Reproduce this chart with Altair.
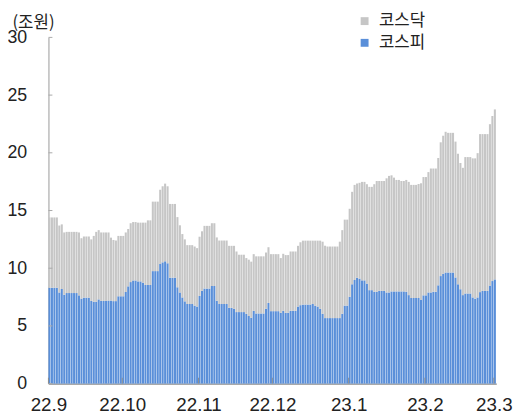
import altair as alt
import pandas as pd

start_date = "2022-09-01"

# Total (코스피 + 코스닥), 조원, one value per calendar day from 2022-09-01
total = [
    14.4, 14.4, 14.4, 14.4, 13.7, 13.8, 13.1, 13.15, 13.15, 13.15,
    13.15, 13.15, 13.1, 12.6, 12.75, 12.75, 12.75, 12.5, 12.8, 13.15,
    13.3, 13.1, 13.1, 13.1, 13.1, 12.65, 12.45, 12.4, 12.8, 12.8,
    12.8, 13.1, 13.4, 13.9, 14.0, 14.0, 13.95, 13.95, 13.95, 13.95,
    14.15, 14.15, 15.77, 15.77, 15.77, 16.8, 17.1, 17.33, 17.1, 15.57,
    15.57, 15.57, 14.43, 13.72, 12.96, 12.5, 12.0, 12.0, 12.0, 11.88,
    11.74, 12.73, 13.2, 13.67, 13.67, 13.67, 13.9, 13.9, 12.67, 12.4,
    12.4, 12.4, 12.4, 11.94, 11.94, 11.94, 11.45, 11.17, 11.17, 11.17,
    10.88, 10.74, 10.57, 11.22, 11.03, 11.03, 11.03, 11.03, 11.36, 11.82,
    11.22, 11.22, 11.22, 11.22, 10.88, 11.25, 11.14, 11.14, 11.45, 11.45,
    11.45, 11.94, 12.25, 12.39, 12.39, 12.39, 12.39, 12.39, 12.39, 12.39,
    12.39, 12.3, 11.95, 11.88, 11.88, 11.88, 11.88, 11.88, 12.3, 13.3,
    14.21, 14.21, 15.15, 16.62, 17.22, 17.34, 17.4, 17.48, 17.48, 17.28,
    17.05, 17.05, 17.28, 17.56, 17.56, 17.56, 17.56, 17.79, 18.0, 18.05,
    17.85, 17.65, 17.65, 17.56, 17.56, 17.65, 17.48, 17.22, 17.22, 17.22,
    17.3, 17.36, 17.9, 17.9, 18.33, 18.64, 18.64, 18.64, 19.55, 20.91,
    21.48, 21.82, 21.73, 21.73, 21.73, 20.97, 19.92, 19.12, 18.7, 19.63,
    19.63, 19.63, 19.52, 19.52, 19.97, 21.62, 21.62, 21.62, 21.62, 22.48,
    23.19, 23.76,
]

# 코스피 part
kospi = [
    8.31, 8.31, 8.31, 8.31, 7.9, 8.2, 7.7, 7.85, 7.85, 7.85,
    7.85, 7.85, 7.65, 7.37, 7.45, 7.45, 7.45, 7.17, 7.1, 7.1,
    7.3, 7.17, 7.17, 7.17, 7.2, 7.2, 7.15, 7.15, 7.57, 7.57,
    7.57, 7.94, 8.43, 8.8, 8.94, 8.94, 8.86, 8.86, 8.75, 8.55,
    8.55, 8.55, 9.75, 9.75, 9.75, 10.37, 10.51, 10.6, 10.43, 9.18,
    9.18, 9.18, 8.35, 7.9, 7.47, 7.13, 6.9, 6.9, 6.9, 6.76,
    6.68, 7.6, 8.04, 8.24, 8.24, 8.24, 8.46, 8.46, 7.18, 6.9,
    6.9, 6.9, 6.9, 6.57, 6.57, 6.48, 6.2, 6.2, 6.2, 6.2,
    6.05, 5.86, 5.71, 6.31, 6.08, 6.08, 6.08, 6.08, 6.48, 6.99,
    6.28, 6.28, 6.28, 6.28, 6.14, 6.31, 6.14, 6.14, 6.31, 6.31,
    6.31, 6.68, 6.8, 6.85, 6.85, 6.85, 6.85, 6.9, 6.76, 6.68,
    6.48, 6.05, 5.68, 5.68, 5.68, 5.68, 5.68, 5.68, 5.68, 6.05,
    6.76, 6.76, 7.53, 8.61, 8.98, 9.18, 9.1, 8.95, 8.95, 8.67,
    8.1, 8.1, 7.96, 7.96, 8.04, 8.04, 8.04, 7.9, 7.9, 7.99,
    7.99, 7.99, 7.99, 7.99, 7.99, 7.96, 7.67, 7.42, 7.42, 7.42,
    7.42, 7.25, 7.65, 7.65, 7.9, 7.9, 7.96, 7.96, 8.52, 9.32,
    9.51, 9.63, 9.63, 9.63, 9.63, 9.2, 8.61, 8.18, 7.67, 7.81,
    7.81, 7.81, 7.47, 7.36, 7.47, 7.93, 8.04, 8.04, 8.04, 8.5,
    8.89, 9.03,
]

series_names = ["코스닥", "코스피"]
series_colors = ["#c6c6c6", "#5a8fd9"]
y_ticks = [0, 5, 10, 15, 20, 25, 30]
month_ticks = [
    "2022-09-01T00:00:00", "2022-10-01T00:00:00", "2022-11-01T00:00:00",
    "2022-12-01T00:00:00", "2023-01-01T00:00:00", "2023-02-01T00:00:00",
    "2023-03-01T00:00:00",
]
x_domain = ["2022-09-01T00:00:00", "2023-03-02T00:00:00"]

# Build a table: 코스피 from 0 to kospi, 코스닥 from kospi to total
dates = pd.date_range(start_date, periods=len(total), freq="D")
rows = []
for d, t, k in zip(dates, total, kospi):
    s = d.strftime("%Y-%m-%dT%H:%M:%S")
    e = (d + pd.Timedelta(hours=20)).strftime("%Y-%m-%dT%H:%M:%S")
    rows.append({"start": s, "end": e, "series": "코스피", "value": k, "base": 0.0})
    rows.append({"start": s, "end": e, "series": "코스닥", "value": t, "base": k})
df = pd.DataFrame(rows)

W, H = 454, 351
NUM_FONT = "Liberation Sans"
KR_FONT = "Noto Sans CJK KR"

month_dt = [
    alt.DateTime(year=int(m[:4]), month=int(m[5:7]), date=1) for m in month_ticks
]

x_axis = alt.Axis(
    values=month_dt, format="%y.%-m", formatType="time", title=None,
    ticks=False, grid=False, labelFontSize=19, labelFont=NUM_FONT,
    labelColor="#222", labelPadding=12, domainColor="#8c8c8c",
    domainWidth=1.2, labelFlush=False, labelOverlap=False,
)
y_axis = alt.Axis(
    values=y_ticks, title="(조원)", titleAngle=0, titleAlign="left",
    titleBaseline="alphabetic", titleX=-37, titleY=-10,
    titleFontSize=17, titleFontWeight="normal", titleFont=KR_FONT,
    titleColor="#222", ticks=False, grid=False, labelFontSize=18,
    labelFont=NUM_FONT, labelColor="#222", labelPadding=22,
    domainColor="#aaaaaa", domainWidth=1.2,
)
x_scale = alt.Scale(domain=x_domain)
y_scale = alt.Scale(domain=[0, 30], nice=False)

bars = alt.Chart(df).mark_bar().encode(
    x=alt.X("start:T", scale=x_scale, axis=x_axis),
    x2="end:T",
    y=alt.Y("value:Q", scale=y_scale, axis=y_axis),
    y2="base:Q",
    color=alt.Color(
        "series:N",
        scale=alt.Scale(domain=series_names, range=series_colors),
        legend=alt.Legend(
            title=None, orient="none", legendX=312, legendY=-25,
            symbolType="square", symbolSize=64, symbolStrokeWidth=0,
            labelFontSize=17, labelFont=KR_FONT, labelColor="#222",
            rowPadding=4, labelOffset=6,
        ),
    ),
)

ytick = alt.Chart(pd.DataFrame({"value": y_ticks})).mark_rule(color="#aaaaaa").encode(
    y=alt.Y("value:Q", scale=y_scale, axis=y_axis), x=alt.value(0), x2=alt.value(4)
)
xtick = alt.Chart(pd.DataFrame({"start": month_ticks})).mark_rule(color="#8c8c8c").encode(
    x=alt.X("start:T", scale=x_scale, axis=x_axis), y=alt.value(H - 6), y2=alt.value(H)
)

chart = alt.layer(bars, ytick, xtick).properties(
    width=W, height=H,
    padding={"left": 41, "top": 27, "right": 22, "bottom": 30},
    autosize=alt.AutoSizeParams(type="none"),
).configure_view(stroke=None)

chart.save("out.html", embed_options={"renderer": "svg", "actions": False})
